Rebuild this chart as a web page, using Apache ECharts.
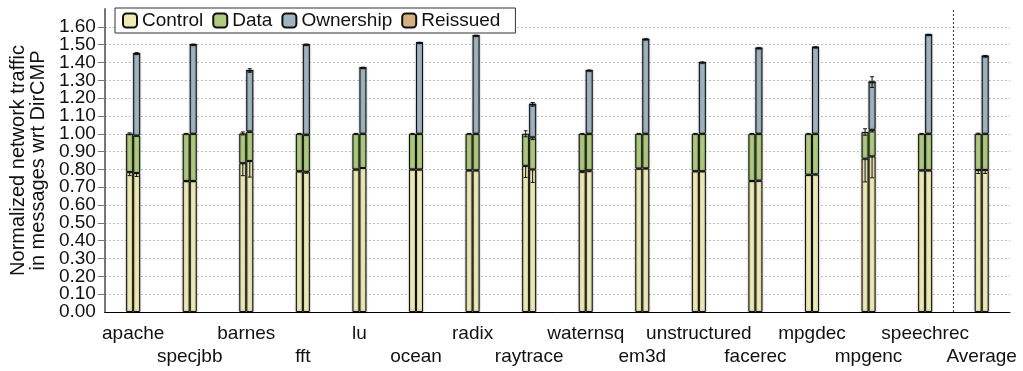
<!DOCTYPE html>
<html>
<head>
<meta charset="utf-8">
<script src="https://cdn.jsdelivr.net/npm/echarts@6/dist/echarts.min.js"></script>
<style>
  html, body { margin: 0; padding: 0; background: #fff; }
  #chart { width: 1023px; height: 371px; }
</style>
</head>
<body>
<div id="chart"></div>
<script>
// Benchmarks (last group is the average over all of them)
const categories = ['apache', 'specjbb', 'barnes', 'fft', 'lu', 'ocean', 'radix', 'raytrace',
  'waternsq', 'em3d', 'unstructured', 'facerec', 'mpgdec', 'mpgenc', 'speechrec', 'Average'];

// Left bar of each group: DirCMP baseline (segment heights)
const baseControl = [0.785, 0.735, 0.835, 0.790, 0.800, 0.800, 0.795, 0.820,
  0.790, 0.805, 0.790, 0.735, 0.770, 0.860, 0.795, 0.797];
const baseData = [0.215, 0.265, 0.167, 0.210, 0.200, 0.200, 0.205, 0.180,
  0.210, 0.195, 0.210, 0.265, 0.230, 0.150, 0.205, 0.203];

// Right bar of each group: evaluated protocol (segment heights)
const newControl = [0.780, 0.735, 0.847, 0.787, 0.808, 0.800, 0.795, 0.800,
  0.795, 0.806, 0.790, 0.737, 0.772, 0.873, 0.795, 0.797];
const newData = [0.210, 0.265, 0.166, 0.208, 0.192, 0.200, 0.205, 0.180,
  0.205, 0.194, 0.210, 0.263, 0.228, 0.149, 0.205, 0.203];
const newOwnership = [0.460, 0.500, 0.342, 0.505, 0.370, 0.510, 0.550, 0.185,
  0.355, 0.530, 0.400, 0.480, 0.485, 0.268, 0.555, 0.435];
const newReissued = [0, 0, 0, 0, 0, 0, 0, 0, 0, 0, 0, 0, 0, 0, 0, 0];

// Error margins, one per segment (drawn at the top of that segment)
const baseControlErr = [0.020, 0.004, 0.070, 0.004, 0.003, 0.003, 0.003, 0.065,
  0.008, 0.003, 0.003, 0.003, 0.003, 0.130, 0.003, 0.020];
const baseDataErr = [0.005, 0.002, 0.008, 0.002, 0.002, 0.002, 0.002, 0.017,
  0.002, 0.002, 0.002, 0.002, 0.002, 0.018, 0.002, 0.003];
const newControlErr = [0.020, 0.004, 0.090, 0.008, 0.003, 0.003, 0.003, 0.073,
  0.008, 0.003, 0.003, 0.003, 0.003, 0.120, 0.003, 0.020];
const newDataErr = [0.003, 0.002, 0.005, 0.003, 0.002, 0.002, 0.002, 0.013,
  0.002, 0.002, 0.002, 0.002, 0.002, 0.012, 0.002, 0.003];
const newTotalErr = [0.005, 0.003, 0.010, 0.003, 0.003, 0.003, 0.003, 0.010,
  0.003, 0.003, 0.003, 0.003, 0.003, 0.030, 0.003, 0.004];

const yTicks = { min: 0, max: 1.7, interval: 0.1 };

const COLORS = {
  Control: '#EEEBB5',
  Data: '#AECB7E',
  Ownership: '#9FB5C1',
  Reissued: '#D3B180'
};

const FONT = 'Liberation Sans, Arial, Helvetica, sans-serif';
const BAR_W = 7;

function barSeries(name, stack, values) {
  return {
    name: name,
    type: 'bar',
    stack: stack,
    barWidth: BAR_W,
    barGap: '0%',
    data: values,
    itemStyle: {
      color: COLORS[name],
      borderColor: '#111',
      borderWidth: 1,
      shadowColor: 'rgba(0,0,0,0.45)',
      shadowBlur: 2
    },
    emphasis: { disabled: true }
  };
}

// Error bar records: [category, segment top, error, side(0 left / 1 right), topmost]
const errData = [];
categories.forEach((c, i) => {
  const b1 = baseControl[i];
  const b2 = b1 + baseData[i];
  errData.push([i, b1, baseControlErr[i], 0, 0]);
  errData.push([i, b2, baseDataErr[i], 0, 1]);
  const n1 = newControl[i];
  const n2 = n1 + newData[i];
  const n3 = n2 + newOwnership[i] + newReissued[i];
  errData.push([i, n1, newControlErr[i], 1, 0]);
  errData.push([i, n2, newDataErr[i], 1, 0]);
  errData.push([i, n3, newTotalErr[i], 1, 1]);
});

function renderErr(params, api) {
  const idx = api.value(0);
  const top = api.value(1);
  const err = api.value(2);
  const side = api.value(3);
  const topmost = api.value(4);
  const cx = api.coord([idx, 0])[0] + (side ? BAR_W / 2 : -BAR_W / 2);
  const yTop = api.coord([idx, top])[1];
  const yLow = api.coord([idx, top - err])[1];
  const yHigh = api.coord([idx, top + err])[1];
  const cap = 2;
  const style = { stroke: '#111', lineWidth: 1 };
  const children = [
    { type: 'line', shape: { x1: cx, y1: yTop, x2: cx, y2: yLow }, style: style },
    { type: 'line', shape: { x1: cx - cap, y1: yLow, x2: cx + cap, y2: yLow }, style: style }
  ];
  if (topmost) {
    children.push({ type: 'line', shape: { x1: cx, y1: yTop, x2: cx, y2: yHigh }, style: style });
    children.push({ type: 'line', shape: { x1: cx - cap, y1: yHigh, x2: cx + cap, y2: yHigh }, style: style });
  }
  return { type: 'group', children: children };
}

// Dotted separator before the Average group
function renderSeparator(params, api) {
  const idx = api.value(0);
  const band = api.size([1, 0])[0];
  const x = api.coord([idx, 0])[0] - band / 2;
  const y0 = api.coord([idx, yTicks.min])[1];
  const y1 = api.coord([idx, yTicks.max])[1];
  return {
    type: 'line',
    shape: { x1: x, y1: y0, x2: x, y2: y1 },
    style: { stroke: '#333', lineWidth: 1, lineDash: [2, 2] }
  };
}

const yLabelStyle = { margin: 9, fontSize: 19, color: '#111', fontFamily: FONT };

const chart = echarts.init(document.getElementById('chart'), null, { renderer: 'canvas' });

chart.setOption({
  animation: false,
  textStyle: { fontFamily: FONT },
  legend: {
    data: ['Control', 'Data', 'Ownership', 'Reissued'],
    left: 115,
    top: 8,
    orient: 'horizontal',
    itemWidth: 14,
    itemHeight: 14,
    itemGap: 9,
    padding: [3, 15, 3, 7],
    borderColor: '#333',
    borderWidth: 1,
    backgroundColor: '#fff',
    selectedMode: false,
    textStyle: { fontFamily: FONT, fontSize: 19, color: '#111' }
  },
  grid: { left: 103, right: 13, top: 9, bottom: 59, containLabel: false },
  xAxis: {
    type: 'category',
    data: categories,
    axisLine: { lineStyle: { color: '#000', width: 1 } },
    axisTick: { alignWithLabel: true, length: 7, lineStyle: { color: '#777' } },
    axisLabel: {
      interval: 0,
      margin: 10,
      fontSize: 19,
      lineHeight: 23,
      color: '#111',
      fontFamily: FONT,
      formatter: (v, i) => (i % 2 ? '\n' + v : v)
    }
  },
  yAxis: [
    {
      type: 'value',
      min: yTicks.min,
      max: yTicks.max,
      interval: yTicks.interval,
      name: 'Normalized network traffic\nin messages wrt DirCMP',
      nameLocation: 'middle',
      nameGap: 54,
      nameTextStyle: { fontSize: 20, lineHeight: 20, color: '#111', fontFamily: FONT },
      axisLine: { show: true, lineStyle: { color: '#777', width: 2 } },
      axisTick: { show: true, length: 7, lineStyle: { color: '#777' } },
      axisLabel: Object.assign({}, yLabelStyle, {
        showMinLabel: false,
        showMaxLabel: false,
        formatter: v => v.toFixed(2)
      }),
      splitLine: {
        show: true,
        showMaxLine: false,
        lineStyle: { color: '#bbb', type: [2, 2], width: 1 }
      }
    },
    {
      // same scale, only carries the label at the origin
      type: 'value',
      position: 'left',
      min: yTicks.min,
      max: yTicks.max,
      interval: yTicks.interval,
      axisLine: { show: false },
      axisTick: { show: false },
      splitLine: { show: false },
      axisLabel: Object.assign({}, yLabelStyle, {
        showMinLabel: true,
        showMaxLabel: false,
        formatter: v => (v === yTicks.min ? v.toFixed(2) : '')
      })
    }
  ],
  series: [
    barSeries('Control', 'base', baseControl),
    barSeries('Data', 'base', baseData),
    barSeries('Control', 'new', newControl),
    barSeries('Data', 'new', newData),
    barSeries('Ownership', 'new', newOwnership),
    barSeries('Reissued', 'new', newReissued),
    {
      type: 'custom',
      name: 'errors',
      renderItem: renderErr,
      data: errData,
      z: 5,
      silent: true,
      clip: false
    },
    {
      type: 'custom',
      name: 'separator',
      renderItem: renderSeparator,
      data: [[categories.length - 1]],
      z: 4,
      silent: true,
      clip: false
    }
  ]
});
</script>
</body>
</html>
